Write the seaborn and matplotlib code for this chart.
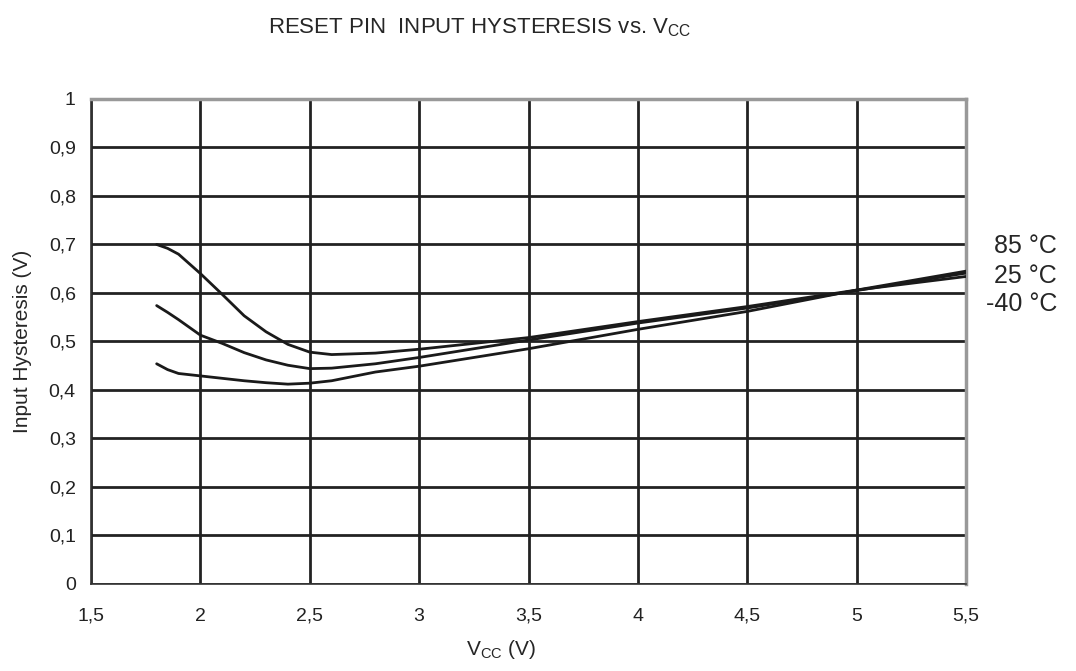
import matplotlib
matplotlib.use("Agg")
import matplotlib.pyplot as plt
import seaborn as sns
import pandas as pd

vcc = [1.8, 1.85, 1.9, 2.0, 2.1, 2.2, 2.3, 2.4, 2.5, 2.6, 2.8, 3.0, 3.5, 4.0, 4.5, 5.0, 5.5]
hyst_m40 = [0.700, 0.692, 0.680, 0.640, 0.597, 0.553, 0.520, 0.494, 0.478, 0.473, 0.476, 0.484, 0.508, 0.541, 0.572, 0.606, 0.634]
hyst_25 = [0.574, 0.560, 0.545, 0.513, 0.496, 0.477, 0.462, 0.451, 0.444, 0.445, 0.454, 0.467, 0.503, 0.538, 0.569, 0.605, 0.641]
hyst_85 = [0.454, 0.442, 0.434, 0.429, 0.424, 0.419, 0.415, 0.412, 0.414, 0.419, 0.437, 0.449, 0.485, 0.525, 0.562, 0.606, 0.645]
series_labels = ["85 °C", "25 °C", "-40 °C"]
x_ticks = [1.5, 2, 2.5, 3, 3.5, 4, 4.5, 5, 5.5]
y_ticks = [0, 0.1, 0.2, 0.3, 0.4, 0.5, 0.6, 0.7, 0.8, 0.9, 1]

sns.set_style("white")
plt.rcParams['font.family'] = ['Liberation Sans', 'DejaVu Sans']
plt.rcParams['mathtext.fontset'] = 'custom'
plt.rcParams['mathtext.rm'] = 'Liberation Sans'

df = pd.DataFrame({
    "vcc": vcc * 3,
    "hyst": hyst_85 + hyst_25 + hyst_m40,
    "temp": [series_labels[0]] * len(vcc) + [series_labels[1]] * len(vcc) + [series_labels[2]] * len(vcc),
})

fig = plt.figure(figsize=(10.76, 6.71), dpi=100)
ax = fig.add_axes([0.0846, 0.1297, 0.8132, 0.7228])

sns.lineplot(data=df, x="vcc", y="hyst", hue="temp", palette=["#1a1a1a"] * 3,
             linewidth=2, legend=False, ax=ax, zorder=3)

ax.set_xlim(1.5, 5.5)
ax.set_ylim(0, 1)
ax.set_xticks(x_ticks)
ax.set_yticks(y_ticks)
ax.set_xticklabels([("%g" % v).replace(".", ",") for v in x_ticks], fontsize=14, color="#222")
ax.set_yticklabels([("%g" % v).replace(".", ",") for v in y_ticks], fontsize=14, color="#222")
ax.tick_params(axis="both", direction="out", length=5, width=1, color="#333")
ax.tick_params(axis="x", pad=12)
ax.tick_params(axis="y", pad=6)
ax.grid(True, color="#222222", linewidth=2)
ax.set_axisbelow(True)

for side in ["top", "right"]:
    ax.spines[side].set_color("#999999")
    ax.spines[side].set_linewidth(2.5)
for side in ["left", "bottom"]:
    ax.spines[side].set_color("#333333")
    ax.spines[side].set_linewidth(1.2)

ax.set_xlabel(r"V$_{\mathregular{CC}}$ (V)", fontsize=15)
ax.xaxis.set_label_coords(0.469, -0.112)
ax.set_ylabel("Input Hysteresis (V)", fontsize=15)
ax.yaxis.set_label_coords(-0.068, 0.5)

fig.text(0.446, 0.958, r"RESET PIN  INPUT HYSTERESIS vs. V$_{\mathregular{CC}}$",
         ha="center", va="center", fontsize=16)

for lbl, yv in zip(series_labels, [0.696, 0.636, 0.578]):
    ax.text(5.916, yv, lbl, ha="right", va="center", fontsize=18, clip_on=False)

fig.savefig("out.png", dpi=100)
